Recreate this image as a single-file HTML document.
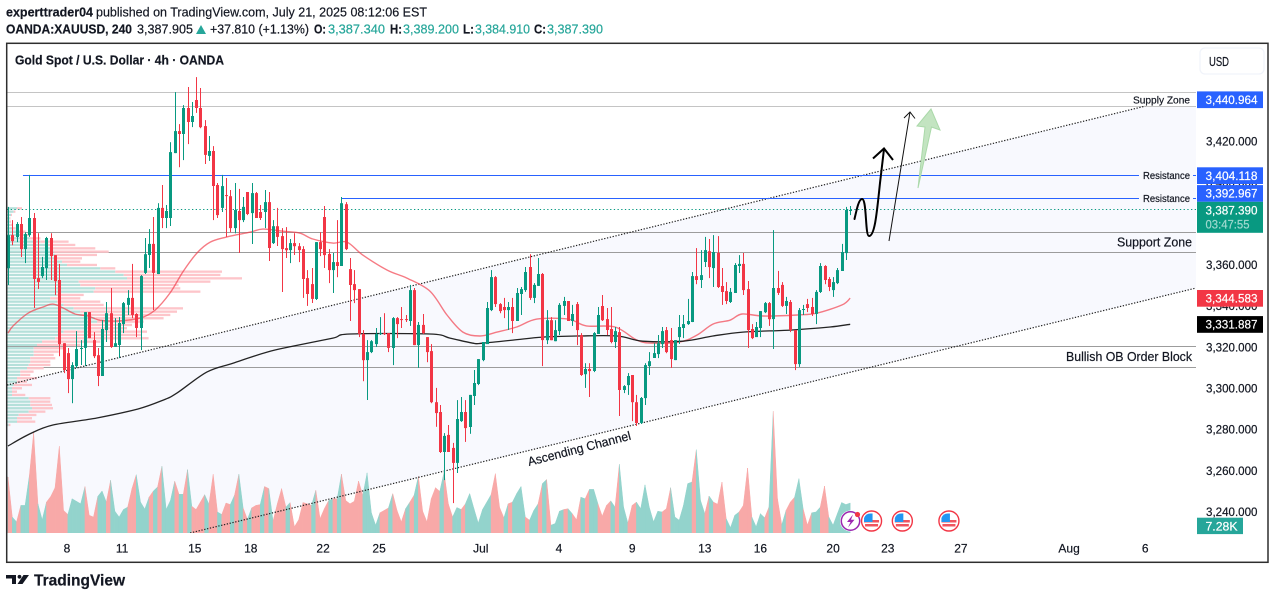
<!DOCTYPE html>
<html lang="en">
<head>
<meta charset="utf-8">
<title>Gold Spot / U.S. Dollar 4h chart</title>
<style>
html,body{margin:0;padding:0;background:#fff;width:1275px;height:599px;overflow:hidden}
svg{display:block;font-family:"Liberation Sans",Arial,sans-serif}
text{fill:#131722;stroke:#131722;stroke-width:.2}
text.teal{fill:#26a69a;stroke:#26a69a}
text.onTag{fill:#fff;stroke:#fff}
</style>
</head>
<body>
<svg id="root" xmlns="http://www.w3.org/2000/svg" width="1275" height="599" viewBox="0 0 1275 599">
  <defs><clipPath id="pane"><rect x="7" y="44" width="1189" height="489"/></clipPath></defs>

  <g>
    <text x="6" y="16.5" font-size="13" font-weight="bold" textLength="87" lengthAdjust="spacingAndGlyphs">experttrader04</text>
    <text x="96" y="16.5" font-size="13" textLength="331" lengthAdjust="spacingAndGlyphs">published on TradingView.com, July 21, 2025 08:12:06 EST</text>
    <text x="6" y="33.5" font-size="13" font-weight="bold" textLength="126" lengthAdjust="spacingAndGlyphs">OANDA:XAUUSD, 240</text>
    <text x="137" y="33.5" font-size="13" textLength="56" lengthAdjust="spacingAndGlyphs">3,387.905</text>
    <polygon points="196,34 206,34 201,25" fill="#26a69a"/>
    <text x="210" y="33.5" font-size="13" textLength="99" lengthAdjust="spacingAndGlyphs">+37.810 (+1.13%)</text>
    <text x="314" y="33.5" font-size="13" font-weight="bold" textLength="12" lengthAdjust="spacingAndGlyphs">O:</text>
    <text class="teal" x="328" y="33.5" font-size="13" textLength="57" lengthAdjust="spacingAndGlyphs">3,387.340</text>
    <text x="390" y="33.5" font-size="13" font-weight="bold" textLength="12" lengthAdjust="spacingAndGlyphs">H:</text>
    <text class="teal" x="403" y="33.5" font-size="13" textLength="56" lengthAdjust="spacingAndGlyphs">3,389.200</text>
    <text x="463" y="33.5" font-size="13" font-weight="bold" textLength="11" lengthAdjust="spacingAndGlyphs">L:</text>
    <text class="teal" x="475" y="33.5" font-size="13" textLength="55" lengthAdjust="spacingAndGlyphs">3,384.910</text>
    <text x="534" y="33.5" font-size="13" font-weight="bold" textLength="12" lengthAdjust="spacingAndGlyphs">C:</text>
    <text class="teal" x="547" y="33.5" font-size="13" textLength="56" lengthAdjust="spacingAndGlyphs">3,387.390</text>
  </g>

  <g id="pane-layer" clip-path="url(#pane)"></g>

  <g>
    <text x="15" y="64.5" font-size="13" font-weight="bold" textLength="209" lengthAdjust="spacingAndGlyphs">Gold Spot / U.S. Dollar · 4h · OANDA</text>
    <text x="1133" y="103.5" font-size="10" textLength="57" lengthAdjust="spacingAndGlyphs">Supply Zone</text>
    <text x="1143" y="179" font-size="10" textLength="47" lengthAdjust="spacingAndGlyphs">Resistance</text>
    <text x="1143" y="202" font-size="10" textLength="47" lengthAdjust="spacingAndGlyphs">Resistance</text>
    <text x="1117" y="246.5" font-size="12.5" textLength="75" lengthAdjust="spacingAndGlyphs">Support Zone</text>
    <text x="1066" y="361" font-size="12.5" textLength="126" lengthAdjust="spacingAndGlyphs">Bullish OB Order Block</text>
    <text transform="translate(529,466) rotate(-14.5)" font-size="12.5" textLength="106" lengthAdjust="spacingAndGlyphs">Ascending Channel</text>
    <polygon points="918,188 925,127 917,126 931,109 940,130 931.5,127" fill="#c3e4c1" stroke="#aad9a9" stroke-width="1"/>
    <path d="M854.5,219 C857,208 859,199 862,199 C867,199 865,236 869,236 C875,236 877,211 880,183 L884,149" fill="none" stroke="#000" stroke-width="2" stroke-linecap="round"/>
    <path d="M873,158.5 L884,148.5 L893,160" fill="none" stroke="#000" stroke-width="2"/>
    <path d="M889,241 L910,112 M904,118 L910,112 L915,118.5" fill="none" stroke="#111" stroke-width="1"/>
  </g>

  <g id="axis-layer"></g>

  <g>
    <g>
      <circle cx="850.5" cy="521" r="9.5" fill="#fff" stroke="#fff" stroke-width="2"/>
      <circle cx="850.5" cy="521" r="9.2" fill="#fff" stroke="#9c27b0" stroke-width="1.5"/>
      <path d="M853,514.5 L847,522 L850.5,522 L848,527.5 L854.5,519.8 L851,519.8 Z" fill="#9c27b0"/>
      <circle cx="857.5" cy="514.5" r="2.6" fill="#f23645"/>
    </g>
    <g id="flag-layer"></g>
  </g>

  <g>
    <rect x="1200" y="48" width="64" height="26" rx="5" fill="#fff" stroke="#f0f3fa" stroke-width="1.2"/>
    <text x="1209" y="66" font-size="12.5" textLength="20" lengthAdjust="spacingAndGlyphs">USD</text>
  </g>

  <rect x="6.7" y="43.3" width="1261.3" height="519" fill="none" stroke="#2e2e2e" stroke-width="1.5"/>

  <g>
    <path d="M6,575 H16 V584 H12 V578.5 H6 Z" fill="#131722"/>
    <circle cx="19.5" cy="576.8" r="1.9" fill="#131722"/>
    <path d="M23.5,575 H29 L22.5,584 H17.5 Z" fill="#131722"/>
    <text x="34" y="585.5" font-size="16" font-weight="bold" textLength="91" lengthAdjust="spacingAndGlyphs">TradingView</text>
  </g>
</svg>

<script>
// ---------- Data ----------
const opens = [
3359.2,3375.2,3374.3,3380.6,3368.4,3375.2,3383.5,3354.3,3355.3,3359.2,
3373.8,3365.5,3353.4,3322.7,3317.9,3305.3,3311.6,3319.9,3320.4,3337.8,
3324.2,3316.9,3306.8,3329.1,3337.3,3320.9,3321.8,3332.0,3341.3,3344.7,
3336.9,3330.1,3356.8,3365.5,3370.9,3356.3,3388.4,3383.5,3383.5,3415.0,
3425.7,3424.3,3436.9,3430.1,3440.8,3436.9,3428.1,3413.6,3416.0,3399.5,
3388.4,3394.6,3394.1,3378.6,3386.9,3382.5,3396.1,3385.9,3395.6,3386.4,
3386.4,3391.2,3371.3,3379.5,3374.7,3368.9,3367.9,3371.3,3369.8,3368.4,
3354.3,3351.4,3344.2,3371.8,3384.0,3366.0,3358.2,3362.1,3360.2,3390.2,
3358.7,3351.4,3349.0,3327.2,3314.5,3318.4,3322.3,3327.2,3327.6,3327.6,
3320.4,3334.9,3334.4,3334.4,3333.5,3348.5,3321.8,3331.6,3325.7,3318.9,
3294.1,3289.3,3269.9,3278.2,3271.9,3264.6,3284.9,3289.3,3282.0,3297.1,
3302.9,3314.5,3322.3,3338.8,3354.8,3341.7,3340.3,3338.8,3340.3,3333.5,
3346.6,3348.5,3359.7,3344.7,3350.5,3356.3,3324.2,3333.9,3323.7,3328.6,
3340.8,3343.2,3333.5,3341.7,3326.7,3307.7,3310.2,3309.2,3327.2,3340.8,
3334.4,3329.6,3323.3,3328.1,3300.0,3302.4,3307.3,3294.1,3284.0,3296.1,
3311.6,3315.5,3317.4,3322.3,3329.1,3324.2,3314.5,3325.7,3330.1,3332.0,
3333.0,3355.3,3353.4,3362.1,3367.4,3359.2,3366.5,3350.5,3348.0,3342.7,
3347.1,3360.2,3361.2,3349.0,3329.6,3325.7,3330.1,3337.8,3342.2,3334.4,
3349.5,3351.0,3340.8,3342.7,3329.1,3312.6,3338.8,3341.7,3340.3,3336.9,
3347.6,3360.2,3353.9,3348.5,3351.9,3357.8,3366.5,3386.9];
const closes = [
3375.2,3372.3,3380.6,3368.4,3375.7,3383.5,3353.9,3352.4,3359.7,3373.8,
3365.0,3352.9,3322.3,3309.7,3305.3,3312.1,3319.9,3320.4,3337.8,3325.2,
3316.4,3306.8,3329.6,3337.3,3320.9,3322.7,3332.5,3342.2,3344.7,3336.4,
3330.1,3355.3,3365.9,3370.9,3356.8,3388.4,3383.5,3386.9,3415.5,3425.7,
3424.3,3436.9,3430.1,3433.0,3436.9,3427.6,3414.1,3416.0,3399.0,3384.9,
3399.0,3394.1,3378.6,3387.4,3382.5,3388.9,3385.4,3395.6,3383.5,3383.5,
3391.2,3368.9,3379.5,3374.3,3368.4,3367.9,3371.3,3369.8,3367.9,3353.9,
3346.6,3344.2,3371.8,3368.4,3365.5,3358.2,3362.1,3360.2,3390.7,3368.4,
3351.0,3348.5,3327.2,3314.5,3318.4,3323.7,3327.2,3327.6,3327.2,3320.4,
3334.9,3332.0,3333.9,3333.9,3348.5,3321.8,3331.6,3327.6,3318.4,3294.1,
3288.8,3269.9,3277.7,3269.9,3264.6,3285.9,3289.3,3281.5,3297.6,3303.4,
3315.0,3323.3,3339.8,3354.8,3341.7,3338.3,3338.8,3340.3,3333.5,3347.1,
3349.0,3357.3,3344.7,3351.0,3356.3,3324.2,3333.9,3324.2,3329.1,3341.3,
3343.2,3333.5,3336.9,3329.1,3307.3,3310.2,3309.2,3327.6,3336.4,3333.9,
3329.1,3323.3,3328.6,3300.0,3301.9,3306.8,3294.1,3284.0,3296.1,3312.1,
3314.0,3317.9,3322.7,3328.6,3318.4,3315.0,3324.2,3330.6,3332.0,3333.5,
3355.3,3353.4,3355.8,3367.9,3359.7,3367.0,3350.0,3347.6,3343.2,3347.6,
3360.7,3361.2,3348.5,3329.1,3325.2,3330.6,3338.3,3342.2,3334.4,3349.5,
3347.1,3340.8,3343.2,3329.1,3312.6,3338.8,3339.3,3339.8,3336.9,3347.6,
3360.2,3353.4,3350.0,3352.4,3358.2,3367.0,3387.4,3387.4];
const highs = [
3388.9,3382.5,3381.5,3384.0,3376.6,3404.4,3385.9,3376.1,3364.6,3374.3,
3376.1,3365.5,3361.2,3322.7,3320.4,3313.5,3328.6,3324.2,3337.8,3337.8,
3328.1,3320.4,3333.9,3342.7,3349.5,3334.9,3335.4,3342.7,3348.5,3361.2,
3337.3,3355.8,3373.8,3378.1,3384.0,3390.7,3399.5,3389.8,3420.3,3444.6,
3429.1,3438.3,3447.1,3439.8,3451.9,3446.6,3431.0,3423.3,3418.4,3400.5,
3404.4,3402.9,3397.1,3400.5,3397.6,3393.7,3396.1,3400.5,3396.1,3389.8,
3397.1,3396.1,3382.5,3388.4,3378.6,3379.1,3373.3,3376.1,3371.3,3369.8,
3358.2,3359.2,3371.8,3376.6,3389.3,3368.4,3366.5,3382.5,3393.7,3391.2,
3364.1,3358.2,3349.0,3329.1,3324.2,3324.2,3330.1,3335.4,3337.3,3327.6,
3335.4,3335.4,3340.3,3336.4,3351.0,3349.5,3333.0,3336.9,3325.7,3322.3,
3301.0,3292.7,3279.1,3283.0,3274.3,3295.1,3296.6,3295.1,3297.6,3309.7,
3315.0,3323.3,3342.7,3358.2,3355.3,3342.2,3344.7,3342.7,3344.7,3349.5,
3350.0,3359.7,3365.9,3351.9,3364.1,3356.8,3338.8,3335.4,3333.9,3342.2,
3345.2,3343.2,3341.3,3342.7,3327.6,3313.0,3313.0,3328.1,3340.3,3346.1,
3339.8,3340.3,3330.6,3330.6,3302.4,3308.2,3307.3,3297.6,3296.6,3313.0,
3318.4,3322.7,3326.7,3330.6,3330.6,3330.1,3324.2,3336.4,3336.4,3344.2,
3357.3,3368.9,3367.9,3374.3,3373.3,3375.2,3374.7,3359.2,3352.4,3349.5,
3361.6,3365.5,3366.5,3352.9,3332.0,3333.0,3338.3,3342.7,3342.7,3377.6,
3357.8,3352.4,3345.2,3343.7,3329.1,3339.8,3341.3,3344.2,3344.7,3348.5,
3361.6,3360.6,3354.8,3354.8,3359.2,3370.9,3388.9,3389.3];
const lows = [
3351.0,3370.3,3371.8,3364.6,3361.6,3374.3,3339.8,3349.0,3354.3,3353.4,
3353.4,3346.1,3316.4,3308.2,3298.5,3293.6,3310.7,3312.1,3311.6,3325.2,
3315.5,3301.9,3306.8,3323.3,3320.4,3320.9,3315.5,3327.6,3336.4,3334.9,
3325.7,3319.4,3356.3,3359.2,3338.8,3356.3,3378.6,3378.6,3379.6,3415.0,
3408.2,3411.6,3419.4,3427.6,3434.5,3427.1,3409.7,3411.2,3382.5,3383.5,
3386.4,3374.3,3376.6,3376.1,3366.5,3381.5,3384.9,3370.9,3383.5,3382.5,
3378.6,3362.6,3370.9,3369.9,3347.6,3364.1,3361.6,3365.5,3362.1,3344.7,
3340.8,3342.2,3343.7,3365.0,3359.2,3351.9,3347.1,3354.8,3360.2,3367.9,
3333.5,3342.2,3325.7,3304.3,3295.1,3317.9,3320.9,3326.7,3326.7,3318.4,
3312.1,3325.2,3330.1,3333.0,3331.1,3321.8,3310.7,3327.2,3313.5,3293.6,
3282.1,3269.4,3256.3,3269.9,3245.1,3259.7,3284.5,3274.8,3278.7,3292.7,
3302.4,3314.0,3322.3,3338.3,3340.3,3337.3,3334.9,3329.1,3327.6,3333.5,
3336.4,3347.6,3343.7,3342.2,3350.5,3311.6,3322.3,3324.2,3323.7,3326.7,
3336.4,3333.5,3331.1,3321.8,3306.8,3301.0,3296.6,3308.7,3327.2,3333.5,
3326.7,3322.7,3320.4,3287.4,3298.5,3297.6,3284.9,3282.5,3283.5,3292.7,
3307.3,3315.5,3315.5,3320.4,3317.9,3310.7,3314.5,3322.3,3325.2,3331.6,
3333.0,3351.4,3349.5,3359.7,3354.3,3350.0,3349.5,3341.3,3341.7,3342.2,
3347.1,3356.8,3346.1,3320.4,3324.7,3325.7,3325.7,3337.3,3331.1,3319.9,
3346.1,3340.3,3336.9,3328.1,3309.7,3311.2,3336.4,3337.8,3335.9,3332.0,
3347.1,3351.4,3348.0,3345.2,3351.4,3357.8,3363.1,3384.9];
const volumes = [
13.6,3.9,2.7,6.7,6.7,14.0,24.4,7.1,3.2,7.5,
8.9,11.0,21.1,5.5,4.5,8.3,7.7,7.1,11.3,4.3,
3.9,8.9,10.2,7.5,12.8,5.3,3.9,5.7,6.3,10.8,
14.2,7.5,5.8,8.7,10.2,11.2,16.2,5.7,7.9,12.6,
9.4,9.4,15.4,6.5,5.7,7.5,9.3,7.0,14.3,5.1,
4.5,7.3,6.9,9.2,14.3,6.1,3.3,6.1,6.7,6.9,
11.3,10.8,2.9,7.1,10.8,6.3,7.4,1.5,3.2,7.4,
7.1,6.7,10.4,3.5,5.9,7.9,8.3,8.3,14.3,7.9,
7.1,7.7,12.6,9.2,14.6,4.9,1.9,4.9,5.5,6.1,
9.6,5.5,2.7,5.9,7.5,9.2,13.8,5.3,2.7,8.3,
11.0,10.1,14.8,7.1,3.9,6.2,5.7,7.1,9.6,5.9,
2.4,5.7,7.5,9.3,14.4,6.2,3.7,7.1,7.5,9.6,
11.3,3.9,3.1,5.5,7.1,12.0,13.0,1.9,2.3,5.3,
5.7,5.9,4.7,3.2,8.7,8.3,10.6,10.6,7.1,4.1,
6.7,7.8,6.3,16.7,6.3,2.4,6.7,7.5,5.9,11.7,
6.3,2.7,5.3,5.1,5.9,11.0,3.9,3.1,6.7,12.0,
12.4,20.3,7.9,4.7,9.0,7.5,7.0,12.4,3.5,1.3,
4.3,5.1,6.7,15.8,3.9,1.5,4.7,3.7,6.3,29.6,
8.3,2.0,5.5,7.5,8.7,13.2,5.9,1.9,4.9,5.1,
6.3,11.4,3.9,1.9,4.7,7.4,6.9,7.28];

const redMaIndex = [0,1.2,4.7,8.2,10.5,12.9,15.7,18.7,21.5,25.5,30.9,34.4,37.9,40.9,44.2,47.3,51.2,56.6,59.6,64.3,68.3,71.3,76,79.3,83,88.7,93.3,98.7,102.7,106.4,110.4,114.4,119,123.7,131,135.3,142,147.1,150.9,157.2,161.2,164.9,168.9,171.7,176.6,184.6,189.2,195.1,197];
const redMaValues = [3327.6,3331.1,3337.3,3340.3,3341.7,3339.8,3336.9,3335.9,3333.9,3333.5,3334.9,3338.8,3347.1,3357.3,3366.5,3371.8,3374.3,3376.6,3378.1,3377.1,3376.1,3373.3,3371.3,3371.8,3365.5,3358.2,3354.3,3348.0,3336.4,3328.1,3326.2,3328.1,3330.6,3334.4,3334.4,3331.1,3330.6,3324.2,3322.7,3323.3,3326.7,3332.0,3333.9,3336.9,3335.9,3336.4,3337.3,3341.3,3344.6];
const blackMaIndex = [0,5.1,10.5,20.8,30.4,36.3,39.5,46.5,52.6,60.6,66.7,76,80,98.7,103.4,108.8,110.9,118.1,125.1,133.1,142.5,148.5,157.9,164.9,171.9,182.9,192.3,197];
const blackMaValues = [3272.8,3278.7,3283.0,3286.4,3290.8,3295.1,3298.5,3308.7,3313.0,3318.4,3321.3,3325.2,3327.2,3327.2,3325.2,3322.7,3322.7,3324.2,3325.7,3326.2,3326.2,3323.7,3323.7,3326.2,3328.1,3329.1,3330.6,3331.9];

const profileTopPrice = 3388.2;
const profileRowStep = 1.618;
const profileUp = [30,20,12,8,8,10,15,40,52,68,100,115,135,140,145,150,165,180,280,325,350,360,215,220,265,260,150,130,150,170,200,220,225,265,270,245,235,170,155,145,105,90,80,80,80,70,70,65,60,40,40,30,30,20,15,15,15,65,70,70,75,65,35,30,30,5];
const profileDown = [15,5,3,2,4,6,11,16,16,32,85,90,130,165,125,75,55,90,45,320,290,345,395,295,255,320,80,90,130,120,328,290,265,205,140,130,125,250,250,280,175,130,90,75,60,75,60,65,50,40,30,60,30,55,30,15,40,65,60,65,63,50,53,45,55,5];

const priceTicks = [3420,3400,3380,3360,3340,3320,3300,3280,3260,3240];
const priceTagValues = [3440.964,3404.118,3392.967,3387.39,3344.583,3331.887];
const priceTagColors = ["#2962ff","#2962ff","#2962ff","#089981","#f23645","#000000"];
const countdownLabel = "03:47:55";
const volumeTag = "7.28K";
const dateLabels = ["8","11","15","18","22","25","Jul","4","9","13","16","20","23","27","Aug","6"];
const dateTickIndex = [13.8,26.7,43.7,56.8,73.7,86.8,110.6,128.9,146,163,176,193,205.8,222.9,248.2,266];

const supplyLevels = [3444.5,3437.7];
const zoneLevels = [3376.6,3366.8,3321.2,3311.0];
const channelUpperIndex = [-0.23,266];
const channelUpperPrice = [3302.4,3437.8];
const channelLowerIndex = [42.6,277.9];
const channelLowerPrice = [3230.6,3349.5];
const resistanceLevels = [3404.118,3392.967];
const resistanceStartIndex = [3.5,77.9];
const lastPrice = 3387.39;
const eventIndex = [202,209.2,220.1];

// ---------- Axis functions ----------
const SVGNS = "http://www.w3.org/2000/svg";
const xOf = i => 8 + 4.275 * i;
const yOf = p => 266.4 + (3360 - p) * 2.06;
const volH = v => v / 0.243;
const PANE_L = 7, PANE_R = 1196, VOL_BASE = 533;
const GREEN = "#089981", RED = "#f23645";

const pane = document.getElementById("pane-layer");
const axis = document.getElementById("axis-layer");
const flags = document.getElementById("flag-layer");

function make(parent, tag, attrs, txt) {
  const el = document.createElementNS(SVGNS, tag);
  for (const k in attrs) el.setAttribute(k, attrs[k]);
  if (txt !== undefined) el.textContent = txt;
  parent.appendChild(el);
  return el;
}
function group(parent) { return make(parent, "g", {}); }
const R1 = n => Math.round(n * 10) / 10;
const crisp = y => Math.floor(y) + 0.5;

// channel fill
const upX0 = xOf(channelUpperIndex[0]), upY0 = yOf(channelUpperPrice[0]);
const upX1 = xOf(channelUpperIndex[1]), upY1 = yOf(channelUpperPrice[1]);
const loX0 = xOf(channelLowerIndex[0]), loY0 = yOf(channelLowerPrice[0]);
const loX1 = xOf(channelLowerIndex[1]), loY1 = yOf(channelLowerPrice[1]);
const channelFill = make(pane, "polygon", {
  points: [[PANE_L, upY0], [upX1, upY1], [PANE_R, upY1], [loX1, loY1], [loX0, loY0], [PANE_L, VOL_BASE]].map(p => p[0] + "," + p[1]).join(" "),
  fill: "#f8f9fe"
});



// horizontal levels
supplyLevels.forEach(p => {
  const line = make(pane, "line", {x1: PANE_L, x2: PANE_R, y1: crisp(yOf(p)), y2: crisp(yOf(p)), stroke: "#c4c4c4", "stroke-width": 1});
  
  
});
zoneLevels.forEach(p => {
  const line = make(pane, "line", {x1: PANE_L, x2: PANE_R, y1: crisp(yOf(p)), y2: crisp(yOf(p)), stroke: "#9c9c9c", "stroke-width": 1});
  
  
});

// volume profile
const profileG = group(pane);


profileUp.forEach((u, k) => {
  const cy = yOf(profileTopPrice - k * profileRowStep);
  const upBar = make(profileG, "rect", {x: PANE_L, y: R1(cy - 1.15), width: R1(u / 3), height: 2.3, fill: "#b5e0da"});
  
  
  const dnBar = make(profileG, "rect", {x: R1(PANE_L + u / 3), y: R1(cy - 1.15), width: R1(profileDown[k] / 3), height: 2.3, fill: "#fdc5ca"});
  
  
});

// volume area, one segment per candle coloured by candle direction
const volG = group(pane);


volumes.forEach((v, i) => {
  const x1 = i === 0 ? PANE_L : xOf(i - 1);
  const x2 = xOf(i);
  const v0 = i === 0 ? v : volumes[i - 1];
  const up = closes[i] >= opens[i];
  const col = up ? "#93d3cc" : "#f8a9a8";
  const seg = make(volG, "polygon", {
    points: x1 + "," + VOL_BASE + " " + x1 + "," + R1(VOL_BASE - volH(v0)) + " " + x2 + "," + R1(VOL_BASE - volH(v)) + " " + x2 + "," + VOL_BASE,
    fill: col, stroke: col, "stroke-width": 0.5
  });
  
  
});

// channel lines, dotted
const upperLine = make(pane, "line", {x1: upX0, y1: upY0, x2: upX1, y2: upY1, stroke: "#222", "stroke-width": 1.2, "stroke-dasharray": "1.3 1.6"});


const lowerLine = make(pane, "line", {x1: loX0, y1: loY0, x2: loX1, y2: loY1, stroke: "#222", "stroke-width": 1.2, "stroke-dasharray": "1.3 1.6"});



// resistance levels with label gap
resistanceLevels.forEach((p, k) => {
  const y = crisp(yOf(p));
  const left = make(pane, "line", {x1: xOf(resistanceStartIndex[k]), x2: 1139, y1: y, y2: y, stroke: "#2962ff", "stroke-width": 1});
  
  
  const right = make(pane, "line", {x1: 1193, x2: PANE_R, y1: y, y2: y, stroke: "#2962ff", "stroke-width": 1});
  
  
});

// last price line
const lastLine = make(pane, "line", {x1: PANE_L, x2: PANE_R, y1: crisp(yOf(lastPrice)), y2: crisp(yOf(lastPrice)), stroke: GREEN, "stroke-width": 1, "stroke-dasharray": "1.3 2.4"});



// moving averages, smoothed through the read points
function smoothPath(idx, vals) {
  const pts = idx.map((i, k) => [xOf(i), yOf(vals[k])]);
  let d = "M" + R1(pts[0][0]) + "," + R1(pts[0][1]);
  for (let k = 0; k < pts.length - 1; k++) {
    const p0 = pts[Math.max(k - 1, 0)], p1 = pts[k], p2 = pts[k + 1], p3 = pts[Math.min(k + 2, pts.length - 1)];
    const c1x = p1[0] + (p2[0] - p0[0]) / 6, c1y = p1[1] + (p2[1] - p0[1]) / 6;
    const c2x = p2[0] - (p3[0] - p1[0]) / 6, c2y = p2[1] - (p3[1] - p1[1]) / 6;
    d += " C" + R1(c1x) + "," + R1(c1y) + " " + R1(c2x) + "," + R1(c2y) + " " + R1(p2[0]) + "," + R1(p2[1]);
  }
  return d;
}
const redMa = make(pane, "path", {d: smoothPath(redMaIndex, redMaValues), fill: "none", stroke: "#f23645", "stroke-opacity": 0.66, "stroke-width": 1.4});


const blackMa = make(pane, "path", {d: smoothPath(blackMaIndex, blackMaValues), fill: "none", stroke: "#111", "stroke-opacity": 0.92, "stroke-width": 1.3});



// candles
const candleG = group(pane);


opens.forEach((o, i) => {
  const c = closes[i], up = c >= o, col = up ? GREEN : RED;
  const x = Math.round(xOf(i));
  const top = yOf(Math.max(o, c)), bot = yOf(Math.min(o, c));
  const wick = make(candleG, "rect", {x: x, y: R1(yOf(highs[i])), width: 1, height: R1(yOf(lows[i]) - yOf(highs[i])), fill: col});
  
  
  const body = make(candleG, "rect", {x: x - 1, y: R1(top), width: 3, height: R1(Math.max(bot - top, 1)), fill: col});
  
  
});

// price axis ticks
priceTicks.forEach(p => {
  const t = make(axis, "text", {x: 1206, y: R1(yOf(p) - 1.7 + 4.2), "font-size": 12, textLength: 51.5, lengthAdjust: "spacingAndGlyphs"}, p.toLocaleString("en-US", {minimumFractionDigits: 3}));
  
  
});

// price tags with collision push-up
const TAG_H = 16.7, TAG_X = 1197, TAG_W = 66;
const tagHeights = priceTagValues.map(p => p === lastPrice ? 31 : TAG_H);
const tagTops = priceTagValues.map(p => yOf(p) - 8.2);
for (let k = tagTops.length - 2; k >= 0; k--) {
  if (tagTops[k] + TAG_H > tagTops[k + 1] - 0.4) tagTops[k] = tagTops[k + 1] - TAG_H;
}
priceTagValues.forEach((p, k) => {
  const r = make(axis, "rect", {x: TAG_X, y: R1(tagTops[k]), width: TAG_W, height: tagHeights[k], fill: priceTagColors[k]});
  
  
  const t = make(axis, "text", {class: "onTag", x: 1205.5, y: R1(tagTops[k] + 12.6), "font-size": 12, textLength: 52, lengthAdjust: "spacingAndGlyphs"}, p.toLocaleString("en-US", {minimumFractionDigits: 3}));
  
  
  if (p === lastPrice) {
    const cd = make(axis, "text", {x: 1205.5, y: R1(tagTops[k] + 26.8), "font-size": 12, textLength: 44, lengthAdjust: "spacingAndGlyphs", style: "fill:#9fd9cf;stroke:#9fd9cf"}, countdownLabel);
    
    
  }
});

// volume tag
const volRect = make(axis, "rect", {x: TAG_X, y: 517.7, width: 46, height: 16.4, fill: "#26a69a"});


const volText = make(axis, "text", {class: "onTag", x: 1205.5, y: 530.5, "font-size": 12, textLength: 32, lengthAdjust: "spacingAndGlyphs"}, volumeTag);



// time axis
dateLabels.forEach((d, k) => {
  const t = make(axis, "text", {x: R1(xOf(dateTickIndex[k])), y: 552.3, "font-size": 12, "text-anchor": "middle"}, d);
  
  
});

// US event flags
eventIndex.forEach(i => {
  const cx = xOf(i), cy = 521;
  const g = group(flags);
  
  
  make(g, "circle", {cx: cx, cy: cy, r: 10, fill: "#fff", stroke: "#f23645", "stroke-width": 1.4});
  make(g, "rect", {x: cx - 7.5, y: cy - 6, width: 15, height: 3, fill: "#fff"});
  make(g, "rect", {x: cx - 7.5, y: cy - 1, width: 15, height: 2.5, fill: "#f0545f"});
  make(g, "rect", {x: cx - 6.5, y: cy + 3, width: 13, height: 2.5, fill: "#f0545f"});
  make(g, "path", {d: "M" + (cx - 7.5) + "," + (cy + 1) + " V" + (cy - 3) + " Q" + (cx - 6) + "," + (cy - 7.5) + " " + (cx - 1) + "," + (cy - 7.5) + " H" + (cx + 1) + " V" + (cy + 1) + " Z", fill: "#2196f3"});
});
</script>
</body>
</html>
